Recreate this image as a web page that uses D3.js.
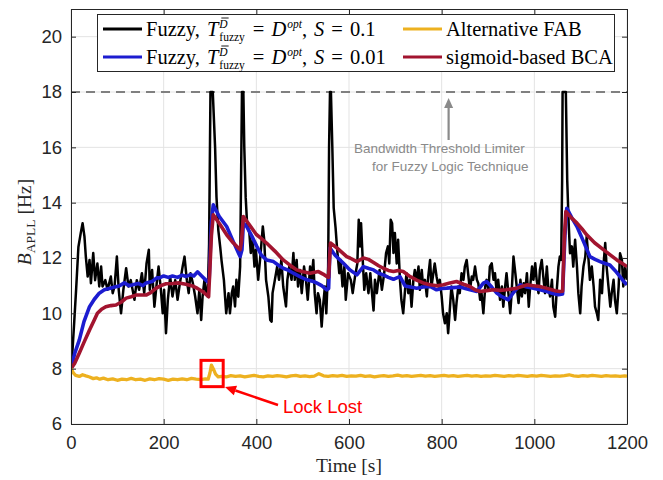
<!DOCTYPE html>
<html>
<head>
<meta charset="utf-8">
<script src="https://cdn.jsdelivr.net/npm/d3@7"></script>
<style>
  html, body { margin: 0; padding: 0; background: #fff; }
  svg text { white-space: pre; }
</style>
</head>
<body>
<svg width="663" height="480"></svg>
<script>
// Data: [time s, bandwidth Hz]
var fuzzyS01 = [[0,8.0],[3,8.6],[7,9.7],[11,10.85],[16,12.4],[21,12.9],[25,13.26],[29,12.78],[32,12.05],[36,11.33],[40,11.93],[43,11.09],[48,12.18],[52,11.2],[57,11.8],[61,10.97],[65,11.69],[68,10.97],[74,11.2],[79,10.85],[86,11.33],[90,10.73],[94,10.97],[99,12.05],[103,10.85],[108,10.0],[113,10.85],[119,11.63],[124,10.97],[129,11.2],[137,10.49],[142,11.2],[147,10.85],[153,11.45],[158,10.73],[163,11.8],[168,12.3],[170,10.85],[175,11.57],[180,10.24],[185,11.09],[189,11.69],[194,10.85],[198,10.0],[201,10.85],[205,9.28],[209,10.49],[214,11.33],[219,10.61],[225,11.2],[230,10.49],[235,11.09],[241,11.69],[245,12.05],[250,11.2],[254,10.73],[258,11.45],[263,11.09],[268,10.61],[273,10.0],[277,10.85],[281,9.76],[284,10.61],[288,11.2],[291,10.85],[295,10.61],[298,12.5],[301,18],[306,18],[311,16.0],[314,14.2],[318,13.0],[322,12.4],[325,11.9],[330,11.2],[335,10.0],[340,10.73],[343,10.0],[347,10.73],[350,10.97],[354,10.25],[357,11.21],[361,10.6],[365,11.69],[367,14.8],[369,18],[372,18],[374,16.0],[377,14.2],[380,13.25],[385,12.9],[388,12.18],[392,12.66],[396,11.69],[399,12.3],[404,11.21],[408,11.93],[414,13.14],[417,12.66],[421,11.21],[426,10.6],[430,9.76],[433,9.7],[435,10.73],[440,11.21],[445,11.69],[449,11.21],[454,11.93],[458,10.97],[464,10.25],[467,11.21],[471,11.69],[476,11.21],[480,12.18],[483,11.21],[487,11.93],[490,10.97],[494,11.57],[498,10.73],[503,11.69],[507,11.21],[511,10.49],[516,11.69],[519,11.21],[523,11.93],[526,10.73],[530,10.0],[533,10.73],[537,10.49],[541,9.52],[544,10.25],[548,10.97],[551,10.0],[555,11.69],[557,16.0],[559,18],[561,18],[564,16.0],[567,13.8],[571,13.1],[574,12.4],[579,11.45],[582,11.93],[586,10.97],[590,11.69],[593,10.49],[598,11.45],[604,11.2],[608,10.73],[613,11.33],[618,11.8],[621,13.38],[624,12.42],[626,13.26],[630,11.8],[633,10.85],[637,11.45],[642,10.73],[646,11.45],[649,10.85],[653,10.1],[656,11.21],[660,10.73],[666,11.57],[671,10.85],[676,11.45],[680,12.18],[684,12.42],[687,11.8],[690,13.38],[693,13.26],[696,12.18],[699,12.9],[703,11.8],[706,12.66],[710,11.21],[713,10.49],[717,10.0],[721,10.85],[724,11.45],[728,10.73],[731,11.21],[735,10.24],[739,11.21],[742,11.57],[746,11.21],[750,11.69],[753,10.85],[757,11.57],[760,10.97],[764,11.21],[768,10.61],[771,11.33],[775,11.93],[778,10.97],[782,11.45],[785,11.8],[789,11.33],[793,10.97],[796,11.21],[800,10.61],[803,10.0],[807,9.64],[811,10.0],[814,9.28],[818,10.24],[821,10.97],[825,10.49],[829,9.76],[832,10.37],[836,10.97],[839,10.73],[843,11.45],[847,11.21],[850,11.69],[854,11.93],[857,11.45],[861,10.85],[865,11.33],[868,11.21],[872,11.69],[876,11.21],[879,11.09],[883,10.49],[886,10.73],[890,10.0],[894,10.97],[897,11.21],[901,10.85],[904,11.69],[908,11.81],[912,11.21],[915,11.45],[919,10.73],[922,11.21],[926,10.49],[930,10.97],[933,10.24],[937,10.97],[940,11.45],[944,10.73],[948,10.0],[951,10.73],[955,12.05],[959,11.45],[962,10.97],[966,10.37],[970,11.21],[973,10.61],[977,11.09],[980,10.73],[984,11.45],[988,10.24],[991,10.97],[995,11.69],[998,11.21],[1002,11.81],[1005,11.21],[1009,10.73],[1012,11.57],[1016,11.93],[1020,11.21],[1023,10.73],[1027,11.69],[1030,10.97],[1034,10.61],[1038,11.21],[1041,10.24],[1045,9.88],[1048,10.73],[1052,11.69],[1055,12.05],[1058,11.93],[1060,14.8],[1061,18],[1068,18],[1071,14.8],[1074,13.3],[1077,12.17],[1081,12.42],[1084,11.69],[1088,12.66],[1092,11.69],[1095,10.73],[1099,10.0],[1102,10.97],[1106,11.69],[1110,12.05],[1113,12.78],[1117,11.93],[1120,11.21],[1124,11.69],[1128,10.97],[1131,10.24],[1135,10.0],[1138,9.76],[1142,11.21],[1146,10.73],[1149,11.69],[1153,12.54],[1156,11.69],[1160,10.97],[1164,10.24],[1167,10.73],[1171,11.21],[1174,10.49],[1178,10.0],[1182,10.97],[1185,12.17],[1189,11.93],[1192,10.97],[1196,11.69],[1200,11.21]];

var fuzzyS001 = [[0,8.0],[8,8.55],[18,9.04],[28,9.7],[40,10.24],[50,10.5],[61,10.73],[72,10.85],[83,10.9],[94,10.95],[104,10.99],[115,11.1],[125,11.0],[133,11.03],[145,11.08],[155,11.0],[162,11.1],[175,11.15],[185,11.28],[191,11.28],[200,11.35],[210,11.3],[219,11.35],[230,11.3],[240,11.38],[248,11.33],[258,11.4],[265,11.35],[273,11.5],[282,11.35],[291,11.2],[298,11.1],[303,13.3],[307,13.92],[320,13.5],[336,13.14],[350,12.6],[365,12.05],[369,12.3],[372,13.26],[379,13.14],[390,12.8],[401,12.42],[411,12.1],[422,11.93],[437,11.87],[447,11.75],[458,11.63],[470,11.55],[480,11.45],[494,11.33],[509,11.21],[523,11.15],[530,11.1],[541,11.0],[552,10.85],[556,10.9],[559,12.36],[570,12.1],[588,11.81],[602,11.57],[617,11.39],[631,11.69],[643,11.62],[653,11.57],[664,11.45],[674,11.39],[685,11.3],[696,11.23],[703,11.28],[710,11.33],[721,10.99],[733,10.95],[746,10.91],[760,10.95],[775,10.97],[789,10.85],[800,10.9],[811,10.91],[825,10.93],[840,10.95],[851,10.9],[861,10.85],[876,10.79],[890,11.09],[897,11.15],[908,10.95],[919,10.73],[930,10.6],[944,10.49],[955,10.75],[969,11.03],[984,10.95],[998,10.91],[1012,10.85],[1027,10.79],[1040,10.72],[1052,10.67],[1061,10.7],[1066,12.8],[1070,13.8],[1081,13.45],[1092,13.14],[1106,12.6],[1120,12.05],[1131,11.95],[1142,11.87],[1153,11.8],[1163,11.75],[1174,11.55],[1185,11.33],[1193,11.15],[1200,11.03]];

var altFAB = [[0,8.0],[5,7.85],[10,7.76],[18,7.72],[25,7.78],[32,7.74],[40,7.7],[48,7.64],[55,7.67],[62,7.62],[70,7.66],[80,7.6],[90,7.63],[100,7.58],[110,7.62],[120,7.6],[130,7.65],[140,7.6],[150,7.62],[160,7.58],[170,7.63],[180,7.6],[190,7.64],[200,7.62],[210,7.58],[220,7.62],[230,7.6],[240,7.63],[250,7.6],[260,7.65],[270,7.62],[280,7.6],[290,7.63],[296,7.62],[300,7.85],[303,8.13],[307,8.0],[312,7.8],[318,7.7],[325,7.72],[335,7.7],[345,7.75],[355,7.72],[365,7.74],[375,7.7],[385,7.73],[395,7.76],[405,7.72],[415,7.7],[425,7.74],[435,7.72],[445,7.75],[455,7.73],[465,7.7],[475,7.74],[485,7.76],[495,7.72],[505,7.74],[515,7.71],[525,7.73],[535,7.82],[545,7.74],[555,7.72],[565,7.75],[575,7.73],[585,7.76],[595,7.72],[605,7.74],[615,7.73],[625,7.76],[635,7.72],[645,7.74],[655,7.7],[665,7.73],[675,7.75],[685,7.72],[695,7.74],[705,7.77],[715,7.73],[725,7.75],[735,7.72],[745,7.74],[755,7.76],[765,7.73],[775,7.75],[785,7.72],[795,7.74],[805,7.76],[815,7.73],[825,7.75],[835,7.72],[845,7.74],[855,7.76],[865,7.73],[875,7.75],[885,7.72],[895,7.74],[905,7.73],[915,7.76],[925,7.74],[935,7.72],[945,7.75],[955,7.73],[965,7.76],[975,7.74],[985,7.72],[995,7.75],[1005,7.73],[1015,7.76],[1025,7.74],[1035,7.72],[1045,7.74],[1055,7.73],[1065,7.75],[1075,7.78],[1085,7.74],[1095,7.72],[1105,7.75],[1115,7.73],[1125,7.76],[1135,7.74],[1145,7.72],[1155,7.75],[1165,7.73],[1175,7.74],[1185,7.72],[1195,7.74],[1200,7.73]];

var sigmoidBCA = [[0,8.0],[8,8.2],[18,8.57],[28,8.95],[40,9.4],[50,9.75],[57,10.0],[66,10.15],[75,10.24],[86,10.28],[97,10.3],[108,10.4],[119,10.55],[130,10.6],[140,10.66],[151,10.66],[162,10.66],[172,10.75],[183,10.9],[194,11.0],[205,11.07],[219,11.08],[233,11.1],[248,11.05],[262,10.99],[273,10.9],[284,10.79],[297,10.6],[303,12.8],[307,13.56],[322,13.2],[336,12.84],[350,12.55],[365,12.3],[368,12.6],[372,13.5],[385,13.2],[400,12.85],[411,12.7],[422,12.54],[440,12.25],[458,11.93],[472,11.75],[487,11.57],[501,11.5],[516,11.45],[534,11.51],[544,11.42],[552,11.33],[556,11.3],[560,12.54],[575,12.35],[595,12.05],[602,12.0],[617,11.87],[631,12.0],[642,11.95],[653,11.84],[664,11.72],[674,11.63],[685,11.55],[696,11.51],[706,11.55],[717,11.51],[730,11.35],[746,11.2],[760,11.1],[775,11.03],[790,11.0],[804,11.03],[818,11.1],[832,11.15],[847,11.05],[861,10.97],[872,10.85],[883,10.79],[897,10.82],[912,10.85],[926,10.83],[940,10.85],[962,10.91],[973,10.97],[984,11.03],[998,11.0],[1012,10.97],[1023,10.92],[1034,10.87],[1045,10.82],[1055,10.79],[1061,10.8],[1065,12.8],[1068,13.68],[1080,13.45],[1092,13.26],[1103,13.05],[1113,12.84],[1130,12.55],[1149,12.3],[1163,12.12],[1178,11.93],[1190,11.8],[1200,11.69]];

var xTicks = [0, 200, 400, 600, 800, 1000, 1200];
var yTicks = [6, 8, 10, 12, 14, 16, 18, 20];
var thresholdLimit = 18;
var lockLostTime = [300, 322];      // time span boxed as "Lock Lost"
var lockLostRange = [7.35, 8.3];

var svg = d3.select("svg");
var serif = "'Liberation Serif', 'Times New Roman', serif";
var sans = "'Liberation Sans', Arial, sans-serif";
var axisColor = "#262626";

var x = d3.scaleLinear().domain([0, 1200]).range([71, 627]);
var y = d3.scaleLinear().domain([6, 21]).range([424, 9]);

svg.append("defs").append("clipPath").attr("id", "plotClip")
  .append("rect").attr("x", 71).attr("y", 9).attr("width", 556).attr("height", 415);

// grid
var grid = svg.append("g");
grid.selectAll("line.gx").data(xTicks).enter().append("line")
  .attr("x1", d => x(d)).attr("x2", d => x(d)).attr("y1", y(21)).attr("y2", y(6))
  .attr("stroke", "#e3e3e3").attr("stroke-width", 1);
grid.selectAll("line.gy").data(yTicks).enter().append("line")
  .attr("y1", d => y(d)).attr("y2", d => y(d)).attr("x1", x(0)).attr("x2", x(1200))
  .attr("stroke", "#e3e3e3").attr("stroke-width", 1);

// threshold dashed line
svg.append("line")
  .attr("x1", x(0)).attr("x2", x(1200)).attr("y1", y(thresholdLimit)).attr("y2", y(thresholdLimit))
  .attr("stroke", "#808080").attr("stroke-width", 2.2).attr("stroke-dasharray", "9,6");

// series
var line = d3.line().x(d => x(d[0])).y(d => y(d[1]));
var plot = svg.append("g").attr("clip-path", "url(#plotClip)");
var series = [
  { data: fuzzyS01, color: "#000000", width: 2.5 },
  { data: fuzzyS001, color: "#1c1cd0", width: 3.6 },
  { data: sigmoidBCA, color: "#a2142f", width: 3.6 },
  { data: altFAB, color: "#edb120", width: 3.3 }
];
series.forEach(function (s) {
  plot.append("path").datum(s.data)
    .attr("d", line).attr("fill", "none")
    .attr("stroke", s.color).attr("stroke-width", s.width)
    .attr("stroke-linejoin", "round");
});

// axes (box with inward ticks)
function styleAxis(g) {
  g.select(".domain").attr("stroke", axisColor).attr("stroke-width", 1);
  g.selectAll(".tick line").attr("stroke", axisColor);
  g.selectAll(".tick text").attr("fill", axisColor).style("font-family", sans).style("font-size", "18.5px");
}
svg.append("g").attr("transform", "translate(0,424)")
  .call(d3.axisBottom(x).tickValues(xTicks).tickFormat(d3.format("d"))
    .tickSizeInner(-5).tickSizeOuter(0).tickPadding(12))
  .call(styleAxis);
svg.append("g").attr("transform", "translate(71,0)")
  .call(d3.axisLeft(y).tickValues(yTicks).tickFormat(d3.format("d"))
    .tickSizeInner(-5).tickSizeOuter(0).tickPadding(9))
  .call(styleAxis);
svg.append("g").attr("transform", "translate(0,9)")
  .call(d3.axisTop(x).tickValues(xTicks).tickSizeInner(-5).tickSizeOuter(0).tickFormat(""))
  .call(styleAxis);
svg.append("g").attr("transform", "translate(627,0)")
  .call(d3.axisRight(y).tickValues(yTicks).tickSizeInner(-5).tickSizeOuter(0).tickFormat(""))
  .call(styleAxis);

// axis labels
svg.append("text").attr("x", 349).attr("y", 472).attr("text-anchor", "middle")
  .style("font-family", serif).style("font-size", "19.5px").attr("fill", axisColor).text("Time [s]");
var yl = svg.append("text").attr("transform", "translate(31,222) rotate(-90)")
  .attr("text-anchor", "middle")
  .style("font-family", serif).style("font-size", "19.5px").attr("fill", axisColor);
yl.append("tspan").style("font-style", "italic").text("B");
yl.append("tspan").attr("dy", 4).style("font-size", "13.5px").text("APLL");
yl.append("tspan").attr("dy", -4).text(" [Hz]");

// rich text helper: pieces laid out left to right, with stacked sup/sub
function rich(g, x0, y0, parts) {
  var cx = x0;
  parts.forEach(function (p) {
    if (p.gap) { cx += p.gap; return; }
    var items = p.stack || [p];
    var w = 0;
    items.forEach(function (q) {
      var t = g.append("text").attr("x", cx).attr("y", y0 + (q.dy || 0))
        .style("font-family", serif).style("font-size", (q.size || 20.5) + "px")
        .style("font-style", q.it ? "italic" : "normal").attr("fill", "#000").text(q.t);
      var len = t.node().getComputedTextLength();
      if (q.bar) {
        g.append("line").attr("x1", cx + 2).attr("x2", cx + len + 1)
          .attr("y1", y0 + q.dy - 9.5).attr("y2", y0 + q.dy - 9.5)
          .attr("stroke", "#000").attr("stroke-width", 0.9);
      }
      w = Math.max(w, len);
    });
    cx += w;
  });
  return cx;
}

// legend
var lg = svg.append("g");
lg.append("rect").attr("x", 97.5).attr("y", 14.5).attr("width", 517).attr("height", 57)
  .attr("fill", "#fff").attr("stroke", axisColor).attr("stroke-width", 1);
function fuzzyLabel(sVal) {
  return [
    { t: "Fuzzy," }, { gap: 7 }, { t: "T", it: true }, { gap: 1 },
    { stack: [{ t: "D", it: true, size: 11.5, dy: -8.5, bar: true }, { t: "fuzzy", size: 11.5, dy: 5 }] },
    { gap: 8 }, { t: "=" }, { gap: 7 }, { t: "D", it: true }, { gap: 1 },
    { t: "opt", it: true, size: 11.5, dy: -8.5 },
    { t: "," }, { gap: 7 }, { t: "S", it: true }, { gap: 7 }, { t: "=" }, { gap: 7 }, { t: sVal }
  ];
}
var legendItems = [
  { color: "#000000", x: 103, row: 0, parts: fuzzyLabel("0.1") },
  { color: "#1c1cd0", x: 103, row: 1, parts: fuzzyLabel("0.01") },
  { color: "#edb120", x: 403, row: 0, parts: [{ t: "Alternative FAB" }] },
  { color: "#a2142f", x: 403, row: 1, parts: [{ t: "sigmoid-based BCA" }] }
];
legendItems.forEach(function (it) {
  var ly = 29 + it.row * 28;
  lg.append("line").attr("x1", it.x).attr("x2", it.x + 39).attr("y1", ly).attr("y2", ly)
    .attr("stroke", it.color).attr("stroke-width", 3);
  rich(lg, it.x + 43, ly + 7, it.parts);
});

// arrow helper
function arrow(x1, y1, x2, y2, color, w, head, headW) {
  var a = Math.atan2(y2 - y1, x2 - x1);
  var bx = x2 - head * Math.cos(a), by = y2 - head * Math.sin(a);
  svg.append("line").attr("x1", x1).attr("y1", y1).attr("x2", bx).attr("y2", by)
    .attr("stroke", color).attr("stroke-width", w);
  var px = -Math.sin(a) * headW / 2, py = Math.cos(a) * headW / 2;
  svg.append("path")
    .attr("d", "M" + x2 + "," + y2 + "L" + (bx + px) + "," + (by + py) + "L" + (bx - px) + "," + (by - py) + "Z")
    .attr("fill", color);
}

// threshold annotation
var annColor = "#8a8a8a";
arrow(x(815), 140, x(815), y(thresholdLimit) + 6, annColor, 2.2, 10, 9);
svg.append("text").attr("x", 354).attr("y", 153).style("font-family", sans).style("font-size", "13.5px")
  .attr("fill", annColor).text("Bandwidth Threshold Limiter");
svg.append("text").attr("x", 372).attr("y", 171).style("font-family", sans).style("font-size", "13.5px")
  .attr("fill", annColor).text("for Fuzzy Logic Technique");

// lock lost annotation
svg.append("rect")
  .attr("x", x(lockLostTime[0]) - 9).attr("y", y(lockLostRange[1]))
  .attr("width", x(lockLostTime[1]) - x(lockLostTime[0]) + 12)
  .attr("height", y(lockLostRange[0]) - y(lockLostRange[1]))
  .attr("fill", "none").attr("stroke", "#ff0000").attr("stroke-width", 3);
arrow(278, 405, 225, 387, "#ff0000", 2.5, 11, 10);
svg.append("text").attr("x", 283).attr("y", 413).style("font-family", sans).style("font-size", "18.5px")
  .attr("fill", "#ff0000").text("Lock Lost");
</script>
</body>
</html>
